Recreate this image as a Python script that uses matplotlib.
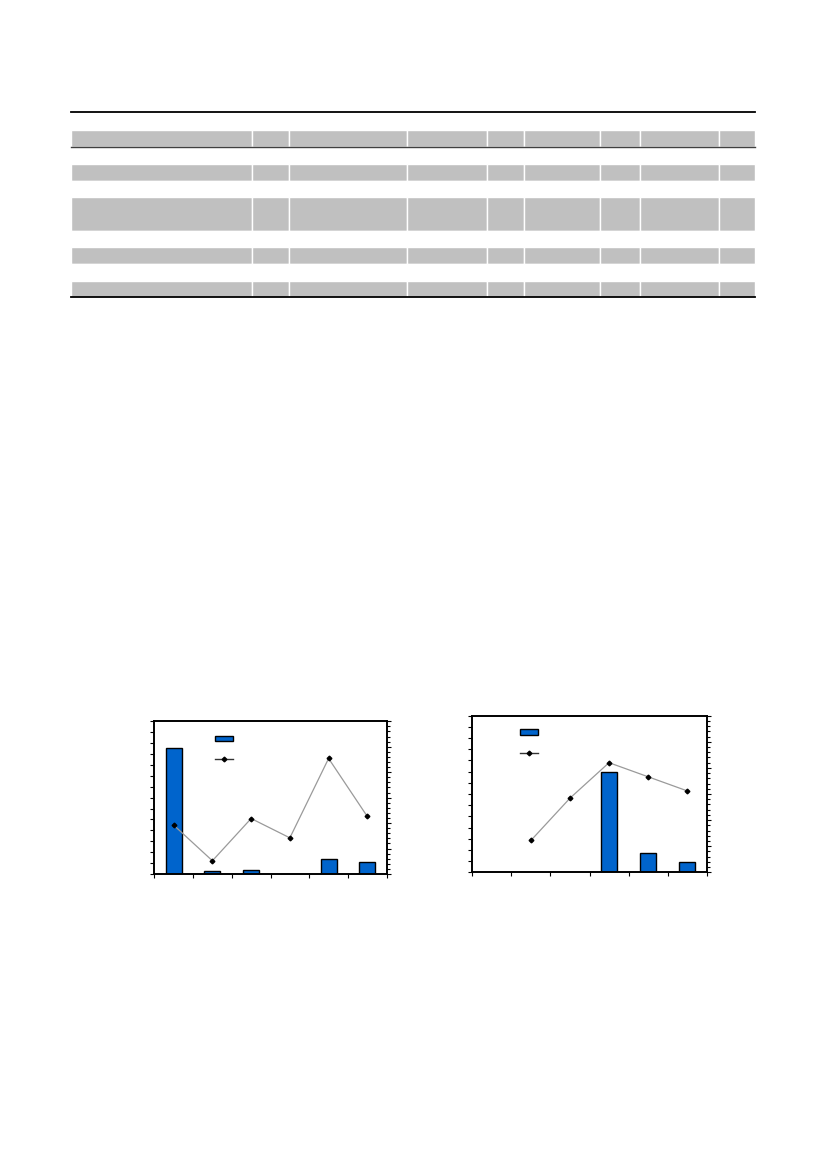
import matplotlib
matplotlib.use("Agg")
import matplotlib.pyplot as plt
import numpy as np
from matplotlib.ticker import MultipleLocator, FixedLocator, NullFormatter
from matplotlib.patches import Patch
from matplotlib.lines import Line2D

# ---------------- data ----------------
categories = ["1", "2", "3", "4", "5", "6"]

chart1_bars = [57.6, 1.2, 1.8, 0.0, 6.7, 5.3]
chart1_line = [9.6, 2.6, 10.9, 7.1, 22.7, 11.3]

chart2_bars = [0.0, 0.15, 0.0, 44.8, 8.5, 4.5]
chart2_line = [np.nan, 6.1, 14.2, 21.0, 18.3, 15.6]

# table layout (no visible text in the reference)
table_col_px = [181.3, 37.0, 117.4, 80.0, 37.0, 76.6, 39.4, 79.0, 36.3]
table_row_px = [18, 17, 17, 17, 16, 34, 16, 17, 17, 16]
table_row_fill = ["white", "gray", "white", "gray", "white", "gray",
                  "white", "gray", "white", "gray"]

W, H = 827, 1169
fig = plt.figure(figsize=(W / 100, H / 100), dpi=100)
fig.patch.set_facecolor("white")

GRAY = "#c0c0c0"
BLUE = "#0064cc"

# ---------------- table ----------------
tx0, tx1, ty_top = 71, 755, 112
ty_bot = ty_top + sum(table_row_px)
ax_t = fig.add_axes([tx0 / W, (H - ty_bot) / H, (tx1 - tx0) / W, (ty_bot - ty_top) / H])
ax_t.set_xlim(0, 1)
ax_t.set_ylim(0, 1)
ax_t.axis("off")
ncol = len(table_col_px)
nrow = len(table_row_px)
cell_text = [[""] * ncol for _ in range(nrow)]
cell_col = [[GRAY if f == "gray" else "white"] * ncol for f in table_row_fill]
tot_w = sum(table_col_px)
tbl = ax_t.table(cellText=cell_text, cellColours=cell_col,
                 colWidths=[w / tot_w for w in table_col_px],
                 bbox=[0, 0, 1, 1])
tot_h = sum(table_row_px)
for (r, c), cell in tbl.get_celld().items():
    cell.set_height(table_row_px[r] / tot_h)
    cell.set_edgecolor("white")
    cell.set_linewidth(1.0)
hdr_y = 1 - (table_row_px[0] + table_row_px[1]) / tot_h
ax_t.axhline(1.0, color="black", lw=1.3, clip_on=False, zorder=5)
ax_t.axhline(hdr_y, color="#404040", lw=1.0, clip_on=False, zorder=5)
ax_t.axhline(0.0, color="black", lw=1.3, clip_on=False, zorder=5)


# ---------------- charts ----------------
def combo(rect, bars, line, leg_anchor):
    ax = fig.add_axes(rect)
    x = np.arange(len(categories))
    bars = np.asarray(bars, dtype=float)
    lws = [1.0 if v >= 1 else 0.0 for v in bars]
    ax.bar(x, bars, width=0.41, color=BLUE, edgecolor="black", linewidth=lws)
    ax.set_xlim(-0.5, len(categories) - 0.5)
    ax.set_ylim(0, 70)
    ax.yaxis.set_major_locator(MultipleLocator(10))
    ax.yaxis.set_minor_locator(MultipleLocator(5))
    ax.xaxis.set_major_locator(FixedLocator(np.arange(len(categories) + 1) - 0.5))
    ax.xaxis.set_major_formatter(NullFormatter())
    ax.yaxis.set_major_formatter(NullFormatter())
    ax.tick_params(axis="y", which="both", direction="out", length=3, width=0.8,
                   left=True, right=False)
    ax.tick_params(axis="x", which="both", direction="out", length=3, width=0.8,
                   bottom=True, top=False)
    for s in ax.spines.values():
        s.set_linewidth(1.2)
        s.set_color("black")

    ax2 = ax.twinx()
    ax2.plot(x, line, color="#9a9a9a", lw=0.9, marker="D", ms=2.4,
             mfc="black", mec="black")
    ax2.set_ylim(0, 30)
    ax2.yaxis.set_major_locator(MultipleLocator(5))
    ax2.yaxis.set_minor_locator(MultipleLocator(1))
    ax2.yaxis.set_major_formatter(NullFormatter())
    ax2.tick_params(axis="y", which="major", direction="out", length=3, width=0.8)
    ax2.tick_params(axis="y", which="minor", direction="out", length=2, width=0.8)
    for s in ax2.spines.values():
        s.set_linewidth(1.2)

    h1 = Patch(facecolor=BLUE, edgecolor="black", linewidth=1.0)
    h2 = Line2D([], [], color="#333333", lw=1.0, marker="D", ms=2.4,
                mfc="black", mec="black")
    ax2.legend([h1, h2], ["", ""], loc="upper left", bbox_to_anchor=leg_anchor,
               frameon=False, fontsize=7, handlelength=1.8, handleheight=0.45,
               labelspacing=1.1, borderpad=0, borderaxespad=0, handletextpad=0.3)
    return ax, ax2


combo([154.3 / W, (H - 874) / H, (386.7 - 154.3) / W, (874 - 721.3) / H],
      chart1_bars, chart1_line, (0.2625, 0.919))
combo([472.3 / W, (H - 872.3) / H, (706.7 - 472.3) / W, (872.3 - 715.7) / H],
      chart2_bars, chart2_line, (0.2035, 0.925))

fig.savefig("out.png", dpi=100, facecolor="white")
